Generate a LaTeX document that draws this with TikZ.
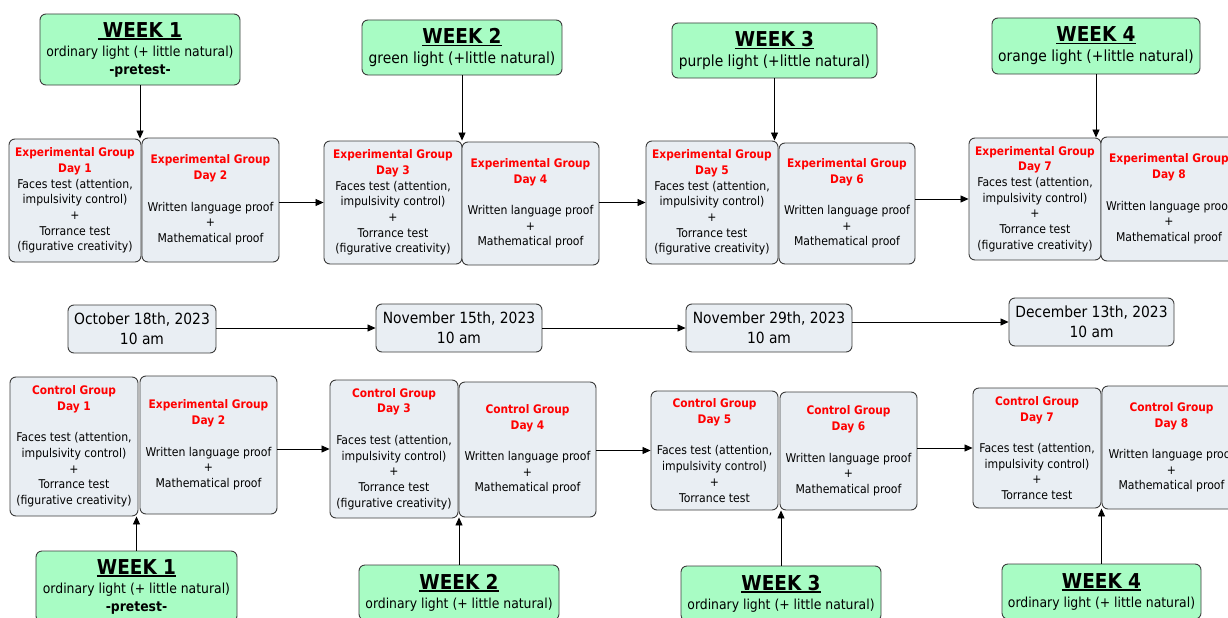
\documentclass[tikz,border=0pt]{standalone}
\usepackage{fontspec}
\setmainfont{DejaVu Sans Condensed}
\usetikzlibrary{arrows.meta}
\definecolor{wkgreen}{RGB}{168,252,196}
\definecolor{boxgray}{RGB}{233,238,243}
\definecolor{edgegray}{RGB}{60,60,60}
\newcommand{\hd}[1]{\textcolor{red}{\fontsize{11.8}{15.7}\selectfont\bfseries #1}}
\newcommand{\wk}[1]{{\fontsize{20.5}{22}\selectfont\bfseries\setbox0\hbox{#1}\rlap{\copy0}\rule[-2.5pt]{\wd0}{1.3pt}}}
\newcommand{\bigsub}[1]{{\fontsize{15.4}{18}\selectfont #1}}
\begin{document}
\begin{tikzpicture}[x=1pt,y=-1pt,
  base/.style={draw=edgegray, line width=0.9pt, rounded corners=6pt, inner sep=0pt, align=center, anchor=center},
  daybox/.style={base, fill=boxgray, font=\fontsize{12.1}{15.7}\selectfont},
  datebox/.style={base, fill=boxgray, font=\fontsize{15.4}{20}\selectfont},
  weekbox/.style={base, fill=wkgreen, font=\fontsize{13.8}{18}\selectfont},
  arr/.style={draw=black, line width=0.8pt, -{Triangle[length=8pt,width=7pt]}}]
\useasboundingbox (0,0) rectangle (1228,618);
\fill[white] (0,0) rectangle (1228,618);

% top week boxes
\node[weekbox, minimum width=200pt, minimum height=71pt] (w1t) at (140,49.5) {\wk{\kern5pt WEEK 1}\\[1pt] ordinary light (+ little natural)\\ \textbf{-pretest-}};
\node[weekbox, minimum width=200pt, minimum height=55pt] (w2t) at (462,47.5) {\wk{WEEK 2}\\[2pt] \bigsub{green light (+little natural)}};
\node[weekbox, minimum width=205pt, minimum height=55pt] (w3t) at (774.5,50.5) {\wk{WEEK 3}\\[2pt] \bigsub{purple light (+little natural)}};
\node[weekbox, minimum width=208pt, minimum height=56pt] (w4t) at (1096,46) {\wk{WEEK 4}\\[2pt] \bigsub{orange light (+little natural)}};

% experimental row
\node[daybox, minimum width=132pt, minimum height=123pt] (e1) at (75,200.5) {\hd{Experimental Group}\\ \hd{Day 1}\\ Faces test (attention,\\ impulsivity control)\\ +\\ Torrance test\\ (figurative creativity)};
\node[daybox, minimum width=137pt, minimum height=124pt] (e2) at (210.5,200) {\hd{Experimental Group}\\ \hd{Day 2}\\[15.7pt] Written language proof\\ +\\ Mathematical proof};
\node[daybox, minimum width=138pt, minimum height=123pt] (e3) at (393,202.5) {\hd{Experimental Group}\\ \hd{Day 3}\\ Faces test (attention,\\ impulsivity control)\\ +\\ Torrance test\\ (figurative creativity)};
\node[daybox, minimum width=137pt, minimum height=123pt] (e4) at (530.5,203.5) {\hd{Experimental Group}\\ \hd{Day 4}\\[15.7pt] Written language proof\\ +\\ Mathematical proof};
\node[daybox, minimum width=132pt, minimum height=123pt] (e5) at (712,202.5) {\hd{Experimental Group}\\ \hd{Day 5}\\ Faces test (attention,\\ impulsivity control)\\ +\\ Torrance test\\ (figurative creativity)};
\node[daybox, minimum width=136pt, minimum height=121pt] (e6) at (847,203.5) {\hd{Experimental Group}\\ \hd{Day 6}\\[15.7pt] Written language proof\\ +\\ Mathematical proof};
\node[daybox, minimum width=132pt, minimum height=122pt] (e7) at (1035,199) {\hd{Experimental Group}\\ \hd{Day 7}\\ Faces test (attention,\\ impulsivity control)\\ +\\ Torrance test\\ (figurative creativity)};
\node[daybox, minimum width=136pt, minimum height=124pt] (e8) at (1169,199) {\hd{Experimental Group}\\ \hd{Day 8}\\[15.7pt] Written language proof\\ +\\ Mathematical proof};

% dates
\node[datebox, minimum width=148pt, minimum height=48pt] (d1) at (142,329) {October 18th, 2023\\ 10 am};
\node[datebox, minimum width=166pt, minimum height=48pt] (d2) at (459,328) {November 15th, 2023\\ 10 am};
\node[datebox, minimum width=166pt, minimum height=48pt] (d3) at (769,328) {November 29th, 2023\\ 10 am};
\node[datebox, minimum width=165pt, minimum height=48pt] (d4) at (1091.5,322) {December 13th, 2023\\ 10 am};

% control row
\node[daybox, minimum width=128pt, minimum height=139pt] (c1) at (74,446.5) {\hd{Control Group}\\ \hd{Day 1}\\[15.7pt] Faces test (attention,\\ impulsivity control)\\ +\\ Torrance test\\ (figurative creativity)};
\node[daybox, minimum width=137pt, minimum height=138pt] (c2) at (208.5,445) {\hd{Experimental Group}\\ \hd{Day 2}\\[15.7pt] Written language proof\\ +\\ Mathematical proof};
\node[daybox, minimum width=128pt, minimum height=138pt] (c3) at (394,449) {\hd{Control Group}\\ \hd{Day 3}\\[15.7pt] Faces test (attention,\\ impulsivity control)\\ +\\ Torrance test\\ (figurative creativity)};
\node[daybox, minimum width=137pt, minimum height=135pt] (c4) at (527.5,449.5) {\hd{Control Group}\\ \hd{Day 4}\\[15.7pt] Written language proof\\ +\\ Mathematical proof};
\node[daybox, minimum width=127pt, minimum height=119pt] (c5) at (714.5,450.5) {\hd{Control Group}\\ \hd{Day 5}\\[15.7pt] Faces test (attention,\\ impulsivity control)\\ +\\ Torrance test};
\node[daybox, minimum width=137pt, minimum height=118pt] (c6) at (848.5,451) {\hd{Control Group}\\ \hd{Day 6}\\[15.7pt] Written language proof\\ +\\ Mathematical proof};
\node[daybox, minimum width=128pt, minimum height=120pt] (c7) at (1037,448) {\hd{Control Group}\\ \hd{Day 7}\\[15.7pt] Faces test (attention,\\ impulsivity control)\\ +\\ Torrance test};
\node[daybox, minimum width=139pt, minimum height=123pt] (c8) at (1171.5,447.5) {\hd{Control Group}\\ \hd{Day 8}\\[15.7pt] Written language proof\\ +\\ Mathematical proof};

% bottom week boxes
\node[weekbox, minimum width=201pt, minimum height=71pt] (bw1) at (136.5,586.5) {\wk{WEEK 1}\\[1pt] ordinary light (+ little natural)\\ \textbf{-pretest-}};
\node[weekbox, minimum width=200pt, minimum height=55pt] (bw2) at (459,592.5) {\wk{WEEK 2}\\[1pt] ordinary light (+ little natural)};
\node[weekbox, minimum width=200pt, minimum height=55pt] (bw3) at (781,593.5) {\wk{WEEK 3}\\[1pt] ordinary light (+ little natural)};
\node[weekbox, minimum width=199pt, minimum height=55pt] (bw4) at (1101.5,591.5) {\wk{WEEK 4}\\[1pt] ordinary light (+ little natural)};

% connectors: weeks to experimental days
\draw[arr] (w1t.south) -- (w1t.south |- e1.north);
\draw[arr] (w2t.south) -- (w2t.south |- e3.north);
\draw[arr] (w3t.south) -- (w3t.south |- e5.north);
\draw[arr] (w4t.south) -- (w4t.south |- e7.north);

% experimental sequence
\draw[arr] (e2.east |- e3.west) -- (e3.west);
\draw[arr] (e4.east |- e5.west) -- (e5.west);
\draw[arr] (e6.east |- e7.west) -- (e7.west);

% dates
\draw[arr] (d1.east |- d2.west) -- (d2.west);
\draw[arr] (d2.east |- d3.west) -- (d3.west);
\draw[arr] (d3.east |- d4.west) -- (d4.west);

% control sequence
\draw[arr] (c2.east |- c3.west) -- (c3.west);
\draw[arr] (c4.east |- c5.west) -- (c5.west);
\draw[arr] (c6.east |- c7.west) -- (c7.west);

% bottom weeks to control days
\draw[arr] (bw1.north) -- (bw1.north |- c1.south);
\draw[arr] (bw2.north) -- (bw2.north |- c4.south);
\draw[arr] (bw3.north) -- (bw3.north |- c5.south);
\draw[arr] (bw4.north) -- (bw4.north |- c7.south);
\end{tikzpicture}
\end{document}
